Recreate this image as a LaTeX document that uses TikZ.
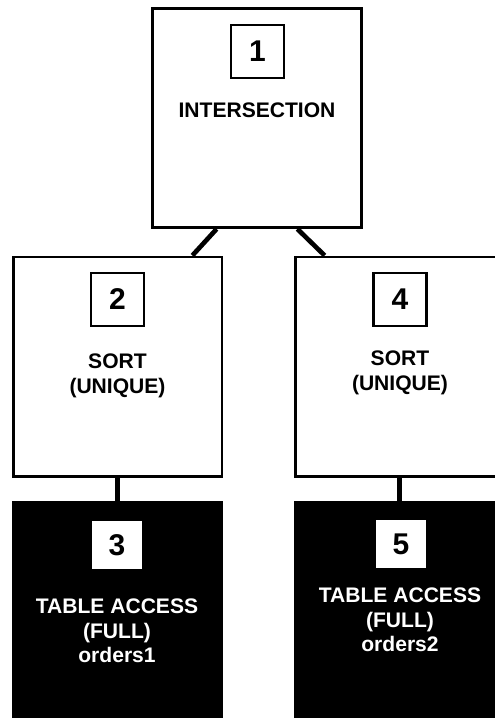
\documentclass[tikz,border=0pt]{standalone}
\usepackage{fontspec}
\setmainfont{Liberation Sans}

\begin{document}
\begin{tikzpicture}[x=0.75pt,y=-0.75pt,
  plan/.style={draw,line width=2pt,minimum width=156.5pt,minimum height=164.5pt,inner sep=0pt},
  leaf/.style={plan,fill=black},
  numbox/.style={draw,line width=1.8pt,fill=white,minimum size=39.75pt,inner sep=0pt,font=\fontsize{22.5}{24}\selectfont\bfseries},
  leafnum/.style={fill=white,minimum width=37.5pt,minimum height=36pt,inner sep=0pt,font=\fontsize{22.5}{24}\selectfont\bfseries},
  op/.style={align=center,inner sep=0pt,font=\fontsize{15.8}{18.5}\selectfont\bfseries},
  link/.style={line width=3.5pt}]
\clip (0,0) rectangle (495,718);
% top step
\node[plan] (b1) at (257,118) {};
\node[numbox] (n1) at (257.5,51.5) {1};
\node[op] (t1) at (257,110) {INTERSECTION};
% sort steps
\node[plan] (b2) at (117.5,366.5) {};
\node[numbox] (n2) at (117.5,299.5) {2};
\node[op] (t2) at (117.5,376) {SORT\\(UNIQUE)};
\node[plan] (b4) at (399.5,366.5) {};
\node[numbox] (n4) at (400,299.5) {4};
\node[op] (t4) at (400,373) {SORT\\(UNIQUE)};
% table access steps
\node[leaf] (b3) at (117.5,611.5) {};
\node[leafnum] (n3) at (117,545) {3};
\node[op,white] (t3) at (117,631) {TABLE ACCESS\\(FULL)\\orders1};
\node[leaf] (b5) at (399.5,611.5) {};
\node[leafnum] (n5) at (401,544) {5};
\node[op,white] (t5) at (400,620) {TABLE ACCESS\\(FULL)\\orders2};
% links
\draw[link] (b1.250) -- (b2.56);
\draw[link] (b1.290) -- (b4.124);
\draw[link] (b2.south) -- (b3.north);
\draw[link] (b4.south) -- (b5.north);
\end{tikzpicture}
\end{document}
